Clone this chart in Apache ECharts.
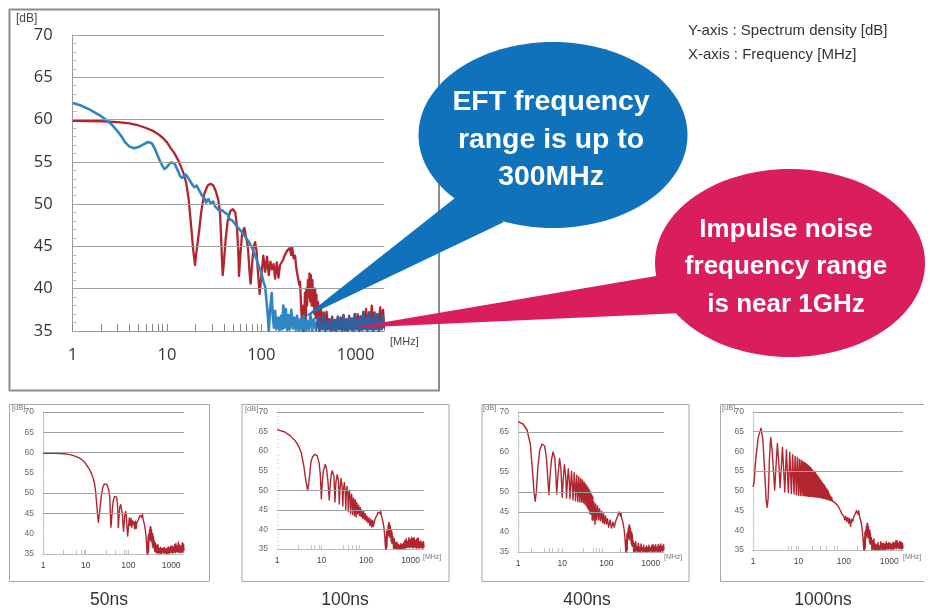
<!DOCTYPE html>
<html><head><meta charset="utf-8">
<style>html,body{margin:0;padding:0;background:#fff}#c{width:930px;height:608px}</style>
<script src="https://cdn.jsdelivr.net/npm/echarts@6/dist/echarts.min.js"></script>
</head><body><div id="c"></div>
<script>
// ---------- data (frequency MHz, spectrum density dB) ----------
const yTicks = [35,40,45,50,55,60,65,70];
const xLabels = [1,10,100,1000];
const mainTickFreqs = [1,2,3,4,5,6,7,8,9,10,20,30,40,50,60,70,80,90,100,200,300,400,500,600,700,800,900,1000,2000];

const tailFreqs = [400,414,428,443,459,475,492,509,527,545,564,584,605,626,648,671,694,719,744,770,797,825,854,884,915,947,980,1015,1050,1087,1125,1165,1205,1248,1291,1337,1384,1432,1482,1534,1588,1644,1701,1761,1823,1887,1953,2000];
const tail50 = [38.4,35.6,37.8,35.4,37.2,35.2,37.3,35.3,36.4,35.2,36.7,35.1,36.3,35.4,36.5,35.2,36.6,35.3,36.2,35.1,36.4,35.2,36.8,35.2,36.5,35.3,36.9,35.4,37,35.2,36.7,35.5,37.3,35.3,37.6,35.6,37,35.4,38,35.5,37.2,35.3,36.9,35.5,37.8,35.4,37.5,35.8];
const tailBlue = [36.6,35,35.9,35.2,36.8,35,36.1,35.2,36,35,36.5,35.1,36.2,35,36.7,35.2,36.1,35,36.9,35.1,36.2,35,36.6,35.2,36.4,35,37,35.2,36.3,35,36.7,35.1,37.1,35.2,36.4,35,37.2,35.2,36.5,35,36.9,35.2,37,35,36.3,35.2,36.8,35.3];
const tail100 = [38.2,35.2,37.6,35.2,36.6,35,36.8,35.2,36.2,35,36,35.1,36.4,35,36.1,35.2,36.6,35,37.2,35.3,37.6,35.4,37,35.5,37.9,35.3,37.4,35.6,38,35.4,37.6,35.3,37.9,35.5,37.2,35.2,37.6,35.4,37.8,35.2,36.8,35.4,37.1,35.3,36.6,35.2,36.9,35.4];
const tail400 = [37.9,35.1,37.2,35,37.6,35.3,36.4,35,37.2,35.2,36.2,35,37,35.3,36.1,35,36.7,35.2,36,35.1,36.5,35,36.2,35.2,36.7,35.1,36.1,35.3,36.6,35,36.9,35.2,36.4,35.1,36.8,35.3,36.2,35,36.9,35.2,36.5,35.1,37,35.3,36.4,35.2,36.9,35.5];
const tail1000 = [38.2,35,37.4,35.2,37.8,35,36.6,35.2,36.3,35,36.9,35.1,36,35,37.1,35.3,36.6,35,36.8,35.2,36.5,35.1,37.1,35.3,36.6,35.2,36.9,35.4,36.7,35.1,36.5,35.3,37,35.2,36.8,35.5,37.3,35.3,37.4,35.6,36.8,35.3,37.2,35.4,37,35.2,36.7,35.4];

const hump = [[200,44.8],[208,44],[212,44.9],[220,43.6],[228,43.9],[236,42.3],[244,42.5],[252,40.5],[258,40.8],[264,38],[270,36],[275,35],[280,38],[285,35],[290,39.5],[295,35.5],[300,40],[306,38],[312,41],[318,39],[324,41.8],[330,38.5],[336,41.6],[342,38],[348,41],[354,38],[360,40],[366,37],[372,40],[378,36.5],[384,39.3],[392,36.5]];

const red50Low = [[1,59.85],[2,59.8],[3,59.7],[4,59.55],[5,59.3],[6,59],[7,58.7],[8,58.3],[9,57.85],[10,57.3],[11,56.6],[12,56],[13,55.3],[14,54.5],[15,53.6],[16,52.5],[17,50.5],[18,47.5],[19,44.5],[19.8,42.8],[20.6,44.5],[22,47],[23,49],[24,50.3],[25,51.3],[27,52.2],[29,52.4],[31,52.2],[33,51.5],[35,50.5],[36.5,49],[37.5,46],[38.4,43],[39,41.6],[40,43],[42,46],[44,48],[47,49.2],[50,49.4],[53,49],[55,47.5],[57,44.5],[58,41.5],[60,44],[62.5,46.5],[66,47.2],[69,47],[72,45],[75,42],[77,40.6],[80,43],[83,45],[86,45.5],[89,44.5],[92,42],[96,39.4],[100,41.5],[105,43.9],[110,42],[115,43.8],[120,41.6],[125,43.2],[130,42.3],[135,42.9],[140,41.2],[146,43.1],[152,41.3],[158,42.8],[163,42.6],[170,43.4],[178,44],[188,44.5]];
const blueLow = [[1,61.95],[1.2,61.7],[1.5,61.2],[1.8,60.7],[2,60.4],[2.3,59.9],[2.6,59.4],[3,58.6],[3.3,58],[3.6,57.3],[4,56.8],[4.5,56.6],[5,56.75],[5.5,57],[6.3,57.35],[6.9,57.2],[7.4,56.6],[7.9,55.8],[8.5,55],[9,54.5],[9.4,54.15],[10,54.4],[11,54.95],[12,54.8],[13,54],[13.8,53.3],[14.5,53.1],[15.2,53.2],[15.8,53.5],[17,53],[18.5,52.3],[19.5,52],[20.6,52.2],[22,51.6],[23.5,51],[25,50.7],[26,50.2],[27.5,50.6],[29,50.1],[31,50.3],[32.5,49.7],[34,49.6],[36,49.2],[38,49.3],[41,49],[44,48.8],[46,48.2],[49,48.1],[53,47.6],[57,47.2],[62,46.7],[68,46.1],[74,45.5],[80,44.8],[87,43.8],[94,42.7],[100,41.9],[105,40.9],[110,40.2],[114,40],[117,37],[120,35],[124,37.5],[129,39.5],[132,37],[136,35.4],[140,37.4],[145,35.2],[151,36.6],[156,35.1],[162,36.8],[167,35.2],[171,38],[176,35.4],[182,37.6],[188,35.1],[194,36.9],[200,35.2],[208,37.5],[216,35.3],[224,36.6],[232,35.1],[240,36.8],[250,35],[260,36.4],[270,35.1],[282,36.8],[292,35],[305,36.2],[318,35.1],[332,36.9],[346,35],[360,36.4],[380,35.1]];

const red100 = [[1,65.5],[1.5,64.9],[2,63.9],[2.5,62.8],[3,61.5],[3.5,59.6],[4,56.2],[4.5,52],[4.9,50],[5.3,53],[5.8,57.4],[6.3,58.5],[7.1,59.2],[8,58.8],[8.8,57],[9.4,54],[9.9,47.8],[10.4,52],[11,55],[12.2,56.6],[13,55.5],[14,52],[14.9,47.5],[15.6,51],[16.5,54],[17.4,55],[19,53.5],[20,47],[21,52],[22.5,54],[24,52.5],[25,46.5],[26,50.5],[27.5,53],[29,51],[30,46],[31,50],[32.5,52],[34,50],[35,45],[36,49],[37.5,51],[39,48.8],[40,44.5],[41,48.4],[42.5,50],[44,47.8],[45,44],[46.2,47.4],[47.5,49],[49,47],[50,43.8],[51.2,46.8],[52.5,48],[54,46.4],[55,43.5],[56.2,46.2],[57.5,47.5],[59,45.8],[60,43.2],[62,46.8],[65,44],[68,46.2],[71,43.6],[74,45.6],[77,43.3],[80,45],[84,42.8],[88,44.6],[92,42.6],[96,44],[100,42.2],[105,43.4],[110,41.7],[116,43],[122,41],[128,42.6],[134,40.6],[140,42.3],[146,40.8],[152,40.4],[158,42.6],[166,42.7],[175,43.6],[185,44.4],[192,44.9]];
const red400 = [[1,67.6],[1.3,67],[1.6,65.5],[1.9,62],[2.1,56],[2.3,50],[2.45,47.7],[2.6,50],[2.8,56],[3.1,60.5],[3.5,62],[4,61.5],[4.4,58.5],[4.8,52],[5,49.3],[5.3,54],[5.7,58],[6.2,60],[6.8,58.5],[7.2,54],[7.5,49.5],[8,54],[8.7,58.4],[9.3,56],[10,48.7],[10.5,53],[11.2,56.8],[12,54],[12.5,48.5],[13,52],[13.7,55.8],[14.4,53],[15,48.3],[15.6,52],[16.2,55.2],[16.9,52],[17.5,48],[18.1,51],[18.7,54.8],[19.4,51],[20,47.8],[20.6,51],[21.2,54.2],[22.5,47.6],[23.7,53.8],[25,47.5],[26.2,53.3],[27.5,47.5],[28.7,53],[30,47.3],[31.2,52.5],[32.5,47],[33.7,52],[35,46.5],[36.2,51.5],[37.5,46],[38.7,51],[40,45.5],[41,50.5],[42.5,44.5],[44,50],[45,44.5],[46.5,49.3],[47.5,43],[49,48.8],[50,43],[52,47.5],[55,41.9],[57,47],[60,43],[63,46.5],[67,43],[70,45.8],[74,42.8],[78,45.2],[82,42.3],[86,44.6],[90,42],[95,44],[100,42],[105,43.3],[112,41.2],[120,43],[130,41],[140,42.5],[150,41.2],[165,43],[180,44],[192,45]];
const red1000 = [[1,51],[1.05,52],[1.15,58],[1.3,63.5],[1.5,65.9],[1.65,63],[1.8,55],[1.95,47.5],[2.05,45.8],[2.15,48],[2.3,58],[2.45,63.5],[2.65,60],[3,50.2],[3.2,56],[3.44,62],[3.7,57],[3.94,50.8],[4.2,56],[4.44,61.1],[4.7,56],[5,49.7],[5.2,55],[5.45,60.4],[5.7,55],[6,49.5],[6.45,59.8],[7,49.3],[7.45,59.2],[8,49.2],[8.45,58.8],[9,49],[9.45,58.5],[10,48.9],[10.5,58],[11,48.8],[11.5,57.8],[12,48.8],[12.5,57.5],[13,48.8],[13.5,57.2],[14,48.7],[14.5,57],[15,48.7],[15.5,56.7],[16,48.7],[16.5,56.4],[17,48.6],[17.5,56.2],[18,48.6],[18.5,55.9],[19,48.6],[19.5,55.6],[20,48.6],[20.7,55.2],[21.4,48.5],[22.1,54.9],[22.8,48.5],[23.5,54.6],[24.2,48.4],[25,54.2],[25.8,48.4],[26.6,53.8],[27.4,48.4],[28.2,53.4],[29,48.3],[30,52.9],[31,48.3],[32,52.5],[33,48.2],[34,52],[35,48.1],[36,51.7],[37,48.1],[38,51.3],[39,48],[40,50.8],[41.3,47.9],[42.6,50.4],[44,47.8],[45.4,49.9],[46.8,47.7],[48.2,49.2],[49.6,47.6],[51,48.6],[52.6,47.5],[54,48.3],[56,47.4],[58,47.7],[60,47.3],[64,47],[70,46.5],[75,46.1],[80,45.6],[85,44.9],[90,44.2],[95,43.9],[100,43.6],[105,42.6],[110,43.5],[116,42.2],[122,43.2],[128,41.8],[134,43],[140,41],[148,42.8],[156,42.2],[165,43.4],[178,44.2],[190,45]];

const gridMain = [40,45,50,55,60,65,70];
const grid50 = [45,50,60,65,70];
const grid100 = [40,45,50,70];
const grid400 = [45,50,65,70];
const grid1000 = [55,65,70];
const ticks50 = [3,6,8,9,10,30,50,80,90,100];
const ticks100 = [3,6,7,9,10,30,40,50,60,70];
const ticks400 = [2,4,5,6,8,10,30,50,60,70,80,200];
const ticks1000 = [6,7,9,10,20,30,40,60,70,200];

const zip = (f, v) => f.map((x, i) => [x, v[i]]);
const redMainData = red50Low.concat(hump, zip(tailFreqs, tail50));
const blueMainData = blueLow.concat(zip(tailFreqs, tailBlue));
const red100Data = red100.concat(hump, zip(tailFreqs, tail100));
const red400Data = red400.concat(hump, zip(tailFreqs, tail400));
const red1000Data = red1000.concat(hump, zip(tailFreqs, tail1000));

// ---------- layout ----------
const RED = '#b1252f', BLUE = '#2f86c3', FONT = '"Liberation Sans"';
const panels = [
  {left:72.7,top:35,right:384,bottom:331,grids:gridMain,ticks:mainTickFreqs,main:true,lines:[{d:redMainData,c:RED,w:2.3},{d:blueMainData,c:{type:'linear',x:0,y:0,x2:1,y2:0,colorStops:[{offset:0,color:BLUE},{offset:.775,color:BLUE},{offset:.778,color:'#2f619f'},{offset:1,color:'#2f619f'}]},w:2.6}]},
  {left:43,top:412,right:184,bottom:554,grids:grid50,ticks:ticks50,lines:[{d:redMainData,c:RED,w:1.4}]},
  {left:277,top:412,right:424,bottom:549,grids:grid100,ticks:ticks100,lines:[{d:red100Data,c:RED,w:1.4}]},
  {left:518,top:412,right:664,bottom:552,grids:grid400,ticks:ticks400,lines:[{d:red400Data,c:RED,w:1.4}]},
  {left:753,top:412,right:903,bottom:550,grids:grid1000,ticks:ticks1000,lines:[{d:red1000Data,c:RED,w:1.4}]}
];

const grid=[],xAxis=[],yAxis=[],series=[];
panels.forEach((p,i)=>{
  const m=!!p.main;
  grid.push({left:p.left,top:p.top,width:p.right-p.left,height:p.bottom-p.top,containLabel:false});
  xAxis.push({type:'log',gridIndex:i,logBase:10,min:1,max:2000,splitLine:{show:false},
    axisLine:{show:true,onZero:false,lineStyle:{color:m?'#999':'#bbb',width:1}},
    axisTick:{show:true,inside:true,length:m?7:4,customValues:p.ticks,lineStyle:{color:m?'#888':'#c4c4c4'}},
    minorTick:{show:false},
    axisLabel:{customValues:xLabels,showMinLabel:true,showMaxLabel:true,margin:m?16:7,color:m?'#333':'#444',fontFamily:m?'"Open Sans"':FONT,fontSize:m?16.5:8.5,formatter:v=>String(Math.round(v))}});
  yAxis.push({type:'value',gridIndex:i,min:35,max:70,interval:5,splitLine:{show:false},
    axisLine:{show:i!==2,onZero:false,lineStyle:{color:m?'#999':'#c8c8c8'}},
    axisTick:{show:m,inside:true,length:5,lineStyle:{color:'#aaa'}},
    minorTick:{show:true,splitNumber:5,length:m?4:2,lineStyle:{color:m?'#bbb':'#d8d8d8'}},
    axisLabel:{margin:m?20:9,color:m?'#333':'#666',fontFamily:m?'"Open Sans"':FONT,fontSize:m?16.5:8.5,customValues:yTicks}});
  series.push({type:'line',xAxisIndex:i,yAxisIndex:i,data:[[1,35]],showSymbol:false,symbol:'none',silent:true,z:1,lineStyle:{width:0},
    markLine:{silent:true,symbol:'none',animation:false,label:{show:false},lineStyle:{color:'#a0a0a0',width:m?1.2:1,type:'solid'},data:p.grids.map(v=>({yAxis:v}))}});
  p.lines.forEach((l,j)=>series.push({type:'line',xAxisIndex:i,yAxisIndex:i,data:l.d,showSymbol:false,symbol:'none',z:2+j,clip:true,lineStyle:{color:l.c,width:l.w,join:'round'}}));
});

const txt=(text,x,y,size,color,extra)=>({type:'text',z:120,style:Object.assign({text,x,y,fill:color,font:`${size}px ${FONT}`,textAlign:'left',textVerticalAlign:'middle'},extra||{})});
const frame=(x,y,w,h,c,lw)=>({type:'rect',z:60,shape:{x,y,width:w,height:h},style:{fill:'none',stroke:c,lineWidth:lw}});
const BLUEC='#1172bc',PINK='#d91e5b';
const callout=(s,x,y,size)=>({type:'text',z:120,style:{text:s,x,y,fill:'#fff',font:`bold ${size}px ${FONT}`,textAlign:'center',textVerticalAlign:'middle'}});
const graphic=[
  frame(9.5,9.5,429.5,381,'#8c8c8c',2),
  frame(9.5,404.5,200,177,'#a8a8a8',1),
  frame(242,404.5,207,177,'#a8a8a8',1),
  frame(482,404.5,207,177,'#a8a8a8',1),
  {type:'polyline',z:60,shape:{points:[[924,404.5],[720.5,404.5],[720.5,581.5],[924,581.5]]},style:{fill:'none',stroke:'#a8a8a8',lineWidth:1}},
  {type:'polygon',z:100,shape:{points:[[303,318],[455,198],[504,222]]},style:{fill:BLUEC}},
  {type:'ellipse',z:100,shape:{cx:553,cy:135,rx:134.5,ry:93},style:{fill:BLUEC}},
  {type:'polygon',z:100,shape:{points:[[350,328],[662,275],[682,313]]},style:{fill:PINK}},
  {type:'ellipse',z:100,shape:{cx:790,cy:263,rx:135,ry:94},style:{fill:PINK}},
  callout('EFT frequency',551,102,28.4),callout('range is up to',551,140,28.4),callout('300MHz',551,177,28.4),
  callout('Impulse noise',786,230,26),callout('frequency range',786,267,26),callout('is near 1GHz',786,305,26),
  txt('Y-axis : Spectrum density [dB]',688,31,15,'#333'),
  txt('X-axis : Frequency [MHz]',688,55,15,'#333'),
  txt('[dB]',16,19,12,'#444'),
  txt('[MHz]',390,342,11,'#444'),
  txt('[dB]',12,408,7.5,'#777'),
  txt('[dB]',245,409,7.5,'#777'),
  txt('[dB]',483,408,7.5,'#777'),
  txt('[dB]',722,408,7.5,'#777'),
  txt('[MHz]',423,557,7,'#777'),
  txt('[MHz]',664,557,7,'#777'),
  txt('[MHz]',903,557,7,'#777'),
  txt('50ns',109,600,17.5,'#333',{textAlign:'center'}),
  txt('100ns',345,600,17.5,'#333',{textAlign:'center'}),
  txt('400ns',587,600,17.5,'#333',{textAlign:'center'}),
  txt('1000ns',823,600,17.5,'#333',{textAlign:'center'})
];

const chart=echarts.init(document.getElementById('c'),null,{renderer:'canvas'});
chart.setOption({animation:false,backgroundColor:'#fff',grid,xAxis,yAxis,series,graphic,tooltip:{show:false},legend:{show:false}});
</script></body></html>
